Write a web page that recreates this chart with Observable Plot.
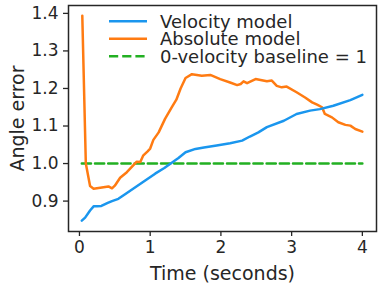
<!DOCTYPE html>
<html>
<head>
<meta charset="utf-8">
<script src="https://cdn.jsdelivr.net/npm/d3@7"></script>
<script src="https://cdn.jsdelivr.net/npm/@observablehq/plot@0.6"></script>
<style>
  html, body { margin: 0; padding: 0; background: #fff; }
  #chart { width: 382px; height: 288px; }
</style>
</head>
<body>
<div id="chart"></div>
<script>
const seriesNames = ["Velocity model", "Absolute model", "0-velocity baseline = 1"];
const seriesColors = ["#1a96ee", "#ff7b12", "#22b022"];

const velocityT = [0.033, 0.08, 0.15, 0.2, 0.25, 0.31, 0.4, 0.46, 0.55, 0.65, 0.79, 0.93, 1.07, 1.2, 1.29, 1.4, 1.5, 1.64, 1.76, 1.94, 2.13, 2.30, 2.41, 2.53, 2.65, 2.89, 3.07, 3.26, 3.40, 3.59, 3.83, 4.0];
const velocityV = [0.848, 0.856, 0.875, 0.886, 0.886, 0.887, 0.895, 0.900, 0.906, 0.919, 0.937, 0.955, 0.973, 0.988, 1.0, 1.015, 1.030, 1.039, 1.043, 1.048, 1.054, 1.061, 1.072, 1.083, 1.097, 1.114, 1.132, 1.141, 1.145, 1.154, 1.169, 1.183];

const absoluteT = [0.04, 0.09, 0.15, 0.2, 0.27, 0.34, 0.41, 0.46, 0.5, 0.575, 0.67, 0.76, 0.81, 0.86, 0.9, 0.96, 1.0, 1.045, 1.12, 1.21, 1.3, 1.37, 1.43, 1.50, 1.59, 1.73, 1.85, 1.99, 2.13, 2.23, 2.28, 2.32, 2.37, 2.49, 2.65, 2.72, 2.79, 2.86, 2.93, 3.07, 3.19, 3.29, 3.36, 3.43, 3.47, 3.57, 3.66, 3.76, 3.83, 3.9, 4.0];
const absoluteV = [1.394, 1.0, 0.94, 0.933, 0.935, 0.937, 0.939, 0.934, 0.941, 0.962, 0.977, 0.995, 1.005, 1.004, 1.021, 1.032, 1.040, 1.063, 1.083, 1.119, 1.148, 1.17, 1.2, 1.228, 1.238, 1.234, 1.236, 1.225, 1.216, 1.209, 1.212, 1.219, 1.214, 1.225, 1.219, 1.221, 1.207, 1.203, 1.205, 1.19, 1.176, 1.163, 1.157, 1.150, 1.132, 1.123, 1.110, 1.103, 1.101, 1.092, 1.085];

const baselineT = [0.033, 4.0];
const baselineV = [1, 1];

const xTicks = [0, 1, 2, 3, 4];
const yTicks = [0.9, 1.0, 1.1, 1.2, 1.3, 1.4];

const velocity = velocityT.map((t, i) => ({t, v: velocityV[i]}));
const absolute = absoluteT.map((t, i) => ({t, v: absoluteV[i]}));
const baseline = baselineT.map((t, i) => ({t, v: baselineV[i]}));

const textColor = "#262626";

const plot = Plot.plot({
  width: 382,
  height: 288,
  marginLeft: 68,
  marginTop: 5,
  marginRight: 6,
  marginBottom: 57,
  style: {fontFamily: "DejaVu Sans", color: textColor, background: "#fff", overflow: "visible"},
  x: {domain: [-0.155, 4.2]},
  y: {domain: [0.819, 1.421]},
  marks: [
    Plot.axisX({ticks: xTicks, tickFormat: d3.format("d"), tickSize: 5, tickPadding: 4, fontSize: 17,
      label: "Time (seconds)", labelAnchor: "center", labelArrow: "none", labelOffset: 48, stroke: textColor, strokeWidth: 1.3}),
    Plot.axisY({ticks: yTicks, tickFormat: d3.format(".1f"), tickSize: 5, tickPadding: 5, fontSize: 17,
      label: "Angle error", labelAnchor: "center", labelArrow: "none", labelOffset: 58, stroke: textColor, strokeWidth: 1.3}),
    Plot.line(baseline, {x: "t", y: "v", stroke: seriesColors[2], strokeWidth: 2.5, strokeDasharray: "9.2,4"}),
    Plot.line(absolute, {x: "t", y: "v", stroke: seriesColors[1], strokeWidth: 2.5}),
    Plot.line(velocity, {x: "t", y: "v", stroke: seriesColors[0], strokeWidth: 2.5}),
    Plot.frame({stroke: textColor, strokeWidth: 1.5})
  ]
});

// legend inside the axes (upper centre)
const svg = d3.select(plot);
svg.selectAll("g[aria-label='x-axis label'] text, g[aria-label='y-axis label'] text").attr("font-size", 19);
const lg = svg.append("g").attr("font-family", "DejaVu Sans").attr("font-size", 18)
  .attr("fill", textColor).attr("text-anchor", "start");
seriesNames.forEach((name, i) => {
  const y = 21.3 + i * 17.5;
  lg.append("line").attr("x1", 109).attr("x2", 147).attr("y1", y).attr("y2", y)
    .attr("stroke", seriesColors[i]).attr("stroke-width", 2.5)
    .attr("stroke-dasharray", i === 2 ? "9.2,4" : null);
  lg.append("text").attr("x", 160).attr("y", y).attr("dy", "0.36em").text(name);
});

document.getElementById("chart").appendChild(plot);
</script>
</body>
</html>
